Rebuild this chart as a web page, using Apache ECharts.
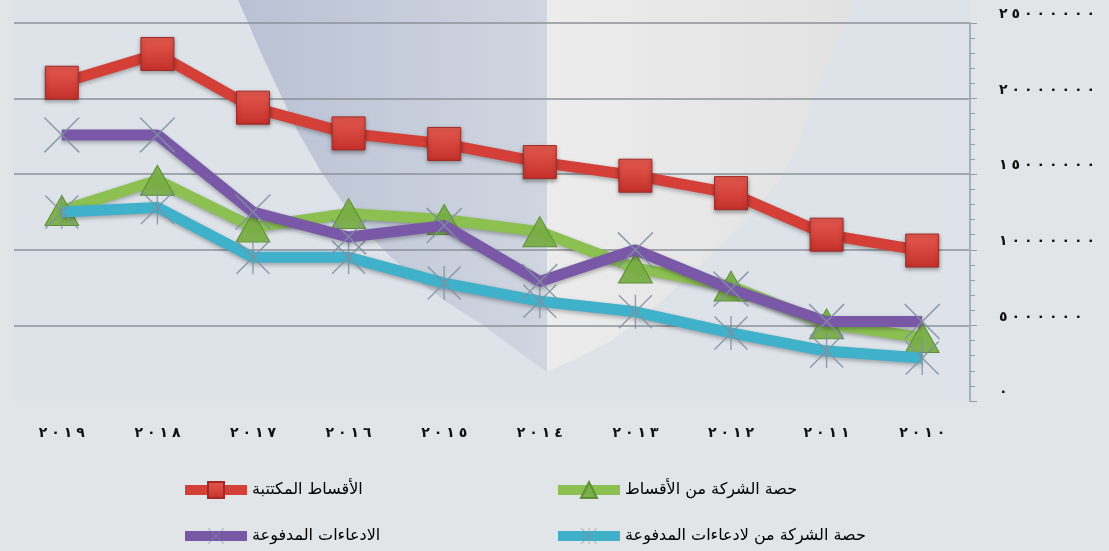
<!DOCTYPE html>
<html><head><meta charset="utf-8">
<script src="https://cdn.jsdelivr.net/npm/echarts@6/dist/echarts.min.js"></script>
<style>html,body{margin:0;padding:0;background:#e1e5e8}#c{width:1109px;height:551px}</style>
</head><body><div id="c"></div>
<script>
// Data (values in units, years from 2019 to 2010 as in the original)
const categories = ['٢٠١٩','٢٠١٨','٢٠١٧','٢٠١٦','٢٠١٥','٢٠١٤','٢٠١٣','٢٠١٢','٢٠١١','٢٠١٠'];
const writtenPremiums = [21050000, 22950000, 19400000, 17700000, 17000000, 15800000, 14900000, 13750000, 11000000, 9950000];
const claimsPaid      = [17600000, 17600000, 12500000, 10850000, 11600000, 7900000, 10000000, 7400000, 5250000, 5250000];
const companyPremiums = [12600000, 14600000, 11500000, 12400000, 12000000, 11200000, 8800000, 7600000, 5100000, 4200000];
const companyClaims   = [12500000, 12800000, 9500000, 9500000, 7800000, 6600000, 5900000, 4500000, 3300000, 2850000];
const seriesNames = ['الأقساط المكتتبة','حصة الشركة من الأقساط','الادعاءات المدفوعة','حصة الشركة من لادعاءات المدفوعة'];

const toArabicDigits = s => String(s).replace(/[0-9]/g, d => '٠١٢٣٤٥٦٧٨٩'[d]);
const spaced = s => s.split('').map(c => '{d|' + c + '}').join('');
const FONT = 'DejaVu Sans';

const xPath = 'path://M0,0.3 L0.3,0 L10,9.7 L9.7,10 Z M9.7,0 L10,0.3 L0.3,10 L0,9.7 Z';
const starPath = 'path://M0,0.3 L0.3,0 L10,9.7 L9.7,10 Z M9.7,0 L10,0.3 L0.3,10 L0,9.7 Z M4.8,0 L5.2,0 L5.2,10 L4.8,10 Z';

const lineShadow = {shadowColor:'rgba(0,0,0,0.3)', shadowBlur:4, shadowOffsetY:2};
const digitStyle = {fontFamily:FONT, fontSize:14, fontWeight:'bold', color:'#111', width:12.5, align:'center'};

const chart = echarts.init(document.getElementById('c'), null, {renderer:'canvas'});
const legendBase = {
  orient:'horizontal', itemWidth:62, itemHeight:20, itemGap:4, padding:0,
  lineStyle:{width:10},
  textStyle:{fontFamily:FONT, fontSize:16, color:'#000'}, selectedMode:false
};
chart.setOption({
  backgroundColor:'#e1e5e8',
  animation:false,
  graphic:[
    {type:'rect', z:-3, shape:{x:13, y:0, width:957, height:401}, style:{fill:'#dde3e9'}},
    {type:'polygon', z:-2, shape:{points:[[238,0],[247,20],[262,55],[277,87],[297,130],[320,170],[343,203],[367,233],[392,258],[417,280],[448,303],[480,323],[515,349],[547,372],[547,0]]},
      style:{fill:new echarts.graphic.LinearGradient(0,0,1,0,[{offset:0,color:'#b9c1d4'},{offset:1,color:'#d0d6e0'}])}},
    {type:'polygon', z:-2, shape:{points:[[547,0],[547,372],[580,357],[613,340],[663,300],[713,253],[750,215],[780,180],[800,140],[813,97],[830,55],[847,20],[852,0]]},
      style:{fill:new echarts.graphic.LinearGradient(0,0,1,0,[{offset:0,color:'#ececec'},{offset:1,color:'#e2e2e3'}])}}
  ],
  grid:{left:14, right:139, top:23, bottom:150},
  legend:[
    Object.assign({}, legendBase, {data:[seriesNames[0]], left:180, top:481}),
    Object.assign({}, legendBase, {data:[seriesNames[1]], left:553, top:481}),
    Object.assign({}, legendBase, {data:[seriesNames[2]], left:180, top:528}),
    Object.assign({}, legendBase, {data:[seriesNames[3]], left:553, top:528})
  ],
  xAxis:{
    type:'category', data:categories, boundaryGap:true,
    axisLine:{show:false}, axisTick:{show:false},
    axisLabel:{interval:0, margin:25, formatter:v => spaced(v), rich:{d:digitStyle}}
  },
  yAxis:{
    type:'value', position:'right', min:0, max:25000000, interval:5000000,
    axisLine:{show:true, lineStyle:{color:'#a3b2c1', width:2}},
    axisTick:{show:true, length:7, lineStyle:{color:'#8e9eae'}},
    minorTick:{show:true, splitNumber:5, length:5, lineStyle:{color:'#8e9eae'}},
    splitLine:{show:true, lineStyle:{color:['rgba(0,0,0,0)','#8a9299','#8a9299','#8a9299','#8a9299','#8a9299'], width:1.5}},
    axisLabel:{margin:27, align:'left', verticalAlign:'middle', padding:[0,0,17,0],
      formatter:v => spaced(toArabicDigits(v)), rich:{d:digitStyle}}
  },
  series:[
    {name:seriesNames[1], type:'line', data:companyPremiums, z:2,
      symbol:'triangle', symbolSize:[34,30],
      lineStyle:Object.assign({color:'#8cc152', width:11}, lineShadow),
      itemStyle:{color:'#78ad46', borderColor:'#5b8c35', borderWidth:1, opacity:0.95}},
    {name:seriesNames[3], type:'line', data:companyClaims, z:3,
      symbol:starPath, symbolSize:34,
      lineStyle:Object.assign({color:'#3fb1ca', width:11}, lineShadow),
      itemStyle:{color:'#7f8fa0', opacity:0.85}},
    {name:seriesNames[2], type:'line', data:claimsPaid, z:4,
      symbol:xPath, symbolSize:36,
      lineStyle:Object.assign({color:'#7a58a8', width:11}, lineShadow),
      itemStyle:{color:'#7f8fa0', opacity:0.85}},
    {name:seriesNames[0], type:'line', data:writtenPremiums, z:5,
      symbol:'rect', symbolSize:33,
      lineStyle:Object.assign({color:'#d43f38', width:11}, lineShadow),
      itemStyle:{color:new echarts.graphic.LinearGradient(0,0,0,1,[{offset:0,color:'#e65a50'},{offset:1,color:'#c4302a'}]),
        borderColor:'#a02a25', borderWidth:1, shadowColor:'rgba(0,0,0,0.35)', shadowBlur:4, shadowOffsetY:2}}
  ]
});
</script></body></html>
